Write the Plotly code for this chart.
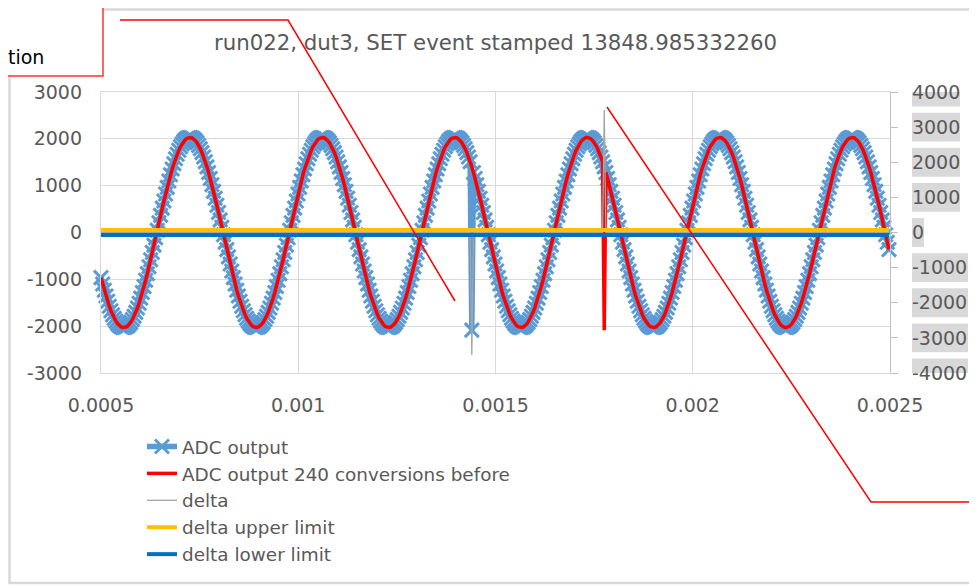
import plotly.graph_objects as go

# ---------------- data ----------------
first_sample_s = 0.0005           # time of first plotted conversion
sample_interval_s = 4.19625e-6    # time between plotted conversions

adc_output = [
    -964, -1101, -1232, -1355, -1469, -1574, -1670, -1755, -1830, -1893, -1945, -1985, -2012, -2027, -2029, -2019, -1997, -1962, -1915, -1857, -1787, -1705, -1613, -1512, -1401, -1281, -1154, -1020, -879, -732, -582, -427, -270, -112, 48, 207, 365, 520, 673, 821,
    964, 1101, 1232, 1355, 1469, 1574, 1670, 1755, 1830, 1893, 1945, 1985, 2012, 2027, 2029, 2019, 1997, 1962, 1915, 1857, 1787, 1705, 1613, 1512, 1401, 1281, 1154, 1020, 879, 732, 582, 427, 270, 112, -48, -207, -365, -520, -673, -821,
    -964, -1101, -1232, -1355, -1469, -1574, -1670, -1755, -1830, -1893, -1945, -1985, -2012, -2027, -2029, -2019, -1997, -1962, -1915, -1857, -1787, -1705, -1613, -1512, -1401, -1281, -1154, -1020, -879, -732, -582, -427, -270, -112, 48, 207, 365, 520, 673, 821,
    964, 1101, 1232, 1355, 1469, 1574, 1670, 1755, 1830, 1893, 1945, 1985, 2012, 2027, 2029, 2019, 1997, 1962, 1915, 1857, 1787, 1705, 1613, 1512, 1401, 1281, 1154, 1020, 879, 732, 582, 427, 270, 112, -48, -207, -365, -520, -673, -821,
    -964, -1101, -1232, -1355, -1469, -1574, -1670, -1755, -1830, -1893, -1945, -1985, -2012, -2027, -2029, -2019, -1997, -1962, -1915, -1857, -1787, -1705, -1613, -1512, -1401, -1281, -1154, -1020, -879, -732, -582, -427, -270, -112, 48, 207, 365, 520, 673, 821,
    964, 1101, 1232, 1355, 1469, 1574, 1670, 1755, 1830, 1893, 1945, 1985, 2012, 2027, 2029, 2019, 1997, 1962, 1915, 1857, 1787, 1705, 1613, 1512, -2085, 1281, 1154, 1020, 879, 732, 582, 427, 270, 112, -48, -207, -365, -520, -673, -821,
    -964, -1101, -1232, -1355, -1469, -1574, -1670, -1755, -1830, -1893, -1945, -1985, -2012, -2027, -2029, -2019, -1997, -1962, -1915, -1857, -1787, -1705, -1613, -1512, -1401, -1281, -1154, -1020, -879, -732, -582, -427, -270, -112, 48, 207, 365, 520, 673, 821,
    964, 1101, 1232, 1355, 1469, 1574, 1670, 1755, 1830, 1893, 1945, 1985, 2012, 2027, 2029, 2019, 1997, 1962, 1915, 1857, 1787, 1705, 1613, 1512, 1401, 1281, 1154, 1020, 879, 732, 582, 427, 270, 112, -48, -207, -365, -520, -673, -821,
    -964, -1101, -1232, -1355, -1469, -1574, -1670, -1755, -1830, -1893, -1945, -1985, -2012, -2027, -2029, -2019, -1997, -1962, -1915, -1857, -1787, -1705, -1613, -1512, -1401, -1281, -1154, -1020, -879, -732, -582, -427, -270, -112, 48, 207, 365, 520, 673, 821,
    964, 1101, 1232, 1355, 1469, 1574, 1670, 1755, 1830, 1893, 1945, 1985, 2012, 2027, 2029, 2019, 1997, 1962, 1915, 1857, 1787, 1705, 1613, 1512, 1401, 1281, 1154, 1020, 879, 732, 582, 427, 270, 112, -48, -207, -365, -520, -673, -821,
    -964, -1101, -1232, -1355, -1469, -1574, -1670, -1755, -1830, -1893, -1945, -1985, -2012, -2027, -2029, -2019, -1997, -1962, -1915, -1857, -1787, -1705, -1613, -1512, -1401, -1281, -1154, -1020, -879, -732, -582, -427, -270, -112, 48, 207, 365, 520, 673, 821,
    964, 1101, 1232, 1355, 1469, 1574, 1670, 1755, 1830, 1893, 1945, 1985, 2012, 2027, 2029, 2019, 1997, 1962, 1915, 1857, 1787, 1705, 1613, 1512, 1401, 1281, 1154, 1020, 879, 732, 582, 427, 270, 112, -48, -207, -365,
]

adc_output_240_before = [
    -964, -1101, -1232, -1355, -1469, -1574, -1670, -1755, -1830, -1893, -1945, -1985, -2012, -2027, -2029, -2019, -1997, -1962, -1915, -1857, -1787, -1705, -1613, -1512, -1401, -1281, -1154, -1020, -879, -732, -582, -427, -270, -112, 48, 207, 365, 520, 673, 821,
    964, 1101, 1232, 1355, 1469, 1574, 1670, 1755, 1830, 1893, 1945, 1985, 2012, 2027, 2029, 2019, 1997, 1962, 1915, 1857, 1787, 1705, 1613, 1512, 1401, 1281, 1154, 1020, 879, 732, 582, 427, 270, 112, -48, -207, -365, -520, -673, -821,
    -964, -1101, -1232, -1355, -1469, -1574, -1670, -1755, -1830, -1893, -1945, -1985, -2012, -2027, -2029, -2019, -1997, -1962, -1915, -1857, -1787, -1705, -1613, -1512, -1401, -1281, -1154, -1020, -879, -732, -582, -427, -270, -112, 48, 207, 365, 520, 673, 821,
    964, 1101, 1232, 1355, 1469, 1574, 1670, 1755, 1830, 1893, 1945, 1985, 2012, 2027, 2029, 2019, 1997, 1962, 1915, 1857, 1787, 1705, 1613, 1512, 1401, 1281, 1154, 1020, 879, 732, 582, 427, 270, 112, -48, -207, -365, -520, -673, -821,
    -964, -1101, -1232, -1355, -1469, -1574, -1670, -1755, -1830, -1893, -1945, -1985, -2012, -2027, -2029, -2019, -1997, -1962, -1915, -1857, -1787, -1705, -1613, -1512, -1401, -1281, -1154, -1020, -879, -732, -582, -427, -270, -112, 48, 207, 365, 520, 673, 821,
    964, 1101, 1232, 1355, 1469, 1574, 1670, 1755, 1830, 1893, 1945, 1985, 2012, 2027, 2029, 2019, 1997, 1962, 1915, 1857, 1787, 1705, 1613, 1512, 1401, 1281, 1154, 1020, 879, 732, 582, 427, 270, 112, -48, -207, -365, -520, -673, -821,
    -964, -1101, -1232, -1355, -1469, -1574, -1670, -1755, -1830, -1893, -1945, -1985, -2012, -2027, -2029, -2019, -1997, -1962, -1915, -1857, -1787, -1705, -1613, -1512, -1401, -1281, -1154, -1020, -879, -732, -582, -427, -270, -112, 48, 207, 365, 520, 673, 821,
    964, 1101, 1232, 1355, 1469, 1574, 1670, 1755, 1830, 1893, 1945, 1985, 2012, 2027, 2029, 2019, 1997, 1962, 1915, 1857, 1787, 1705, 1613, 1512, -2085, 1281, 1154, 1020, 879, 732, 582, 427, 270, 112, -48, -207, -365, -520, -673, -821,
    -964, -1101, -1232, -1355, -1469, -1574, -1670, -1755, -1830, -1893, -1945, -1985, -2012, -2027, -2029, -2019, -1997, -1962, -1915, -1857, -1787, -1705, -1613, -1512, -1401, -1281, -1154, -1020, -879, -732, -582, -427, -270, -112, 48, 207, 365, 520, 673, 821,
    964, 1101, 1232, 1355, 1469, 1574, 1670, 1755, 1830, 1893, 1945, 1985, 2012, 2027, 2029, 2019, 1997, 1962, 1915, 1857, 1787, 1705, 1613, 1512, 1401, 1281, 1154, 1020, 879, 732, 582, 427, 270, 112, -48, -207, -365, -520, -673, -821,
    -964, -1101, -1232, -1355, -1469, -1574, -1670, -1755, -1830, -1893, -1945, -1985, -2012, -2027, -2029, -2019, -1997, -1962, -1915, -1857, -1787, -1705, -1613, -1512, -1401, -1281, -1154, -1020, -879, -732, -582, -427, -270, -112, 48, 207, 365, 520, 673, 821,
    964, 1101, 1232, 1355, 1469, 1574, 1670, 1755, 1830, 1893, 1945, 1985, 2012, 2027, 2029, 2019, 1997, 1962, 1915, 1857, 1787, 1705, 1613, 1512, 1401, 1281, 1154, 1020, 879, 732, 582, 427, 270, 112, -48, -207, -365,
]

delta = [0] * 224 + [-3486] + [0] * 79 + [3486] + [0] * 172
delta_upper_limit = [70] * 477
delta_lower_limit = [-70] * 477

x_tick_values = [0.0005, 0.001, 0.0015, 0.002, 0.0025]
x_tick_labels = ["0.0005", "0.001", "0.0015", "0.002", "0.0025"]
left_tick_values = [-3000, -2000, -1000, 0, 1000, 2000, 3000]
left_tick_labels = ["-3000", "-2000", "-1000", "0", "1000", "2000", "3000"]
right_tick_values = [-4000, -3000, -2000, -1000, 0, 1000, 2000, 3000, 4000]
right_tick_labels = ["-4000", "-3000", "-2000", "-1000", "0", "1000", "2000", "3000", "4000"]

title_text = "run022, dut3, SET event stamped 13848.985332260"

# ---------------- figure ----------------
FONT = "DejaVu Sans"
GREY_TXT = "#595959"
GRID = "#d9d9d9"

# the page body has an 8px margin, so the figure is placed at (8, 8)
OFF = 8
W, H = 977 - OFF, 586 - OFF
# plot area in page pixels (as in the reference)
PL, PR, PT, PB = 101, 890, 92, 373

fig = go.Figure()

fig.add_trace(go.Scatter(
    x0=first_sample_s, dx=sample_interval_s, y=adc_output,
    name="ADC output", mode="lines+markers", cliponaxis=False,
    line=dict(color="#5b9bd5", width=5.5),
    marker=dict(symbol="x-thin", size=14, color="#5b9bd5",
                line=dict(color="#5b9bd5", width=3)),
))
fig.add_trace(go.Scatter(
    x0=first_sample_s, dx=sample_interval_s, y=adc_output_240_before,
    name="ADC output 240 conversions before", mode="lines",
    line=dict(color="#ff0000", width=3.5),
))
fig.add_trace(go.Scatter(
    x0=first_sample_s, dx=sample_interval_s, y=delta, yaxis="y2",
    name="delta", mode="lines",
    line=dict(color="#a5a5a5", width=1.3),
))
fig.add_trace(go.Scatter(
    x0=first_sample_s, dx=sample_interval_s, y=delta_upper_limit, yaxis="y2",
    name="delta upper limit", mode="lines",
    line=dict(color="#ffc000", width=4),
))
fig.add_trace(go.Scatter(
    x0=first_sample_s, dx=sample_interval_s, y=delta_lower_limit, yaxis="y2",
    name="delta lower limit", mode="lines",
    line=dict(color="#0070c0", width=4),
))


def px(xp):
    return (xp - PL) / (PR - PL)


def py(yp):
    return (PB - yp) / (PB - PT)


shapes = []
# outer chart-area border
shapes.append(dict(type="rect", xref="paper", yref="paper",
                   x0=px(9.5), x1=px(995), y0=py(583), y1=py(9.5),
                   line=dict(color=GRID, width=2.5), fillcolor="rgba(0,0,0,0)", layer="below"))
# grey boxes behind the secondary axis labels
for v, lab in zip(right_tick_values, right_tick_labels):
    w = 12 * sum(c.isdigit() for c in lab) + (8 if lab.startswith("-") else 0)
    if lab == "0":
        w = 12
    shapes.append(dict(type="rect", xref="paper", yref="y2",
                       x0=px(912), x1=px(912 + w), y0=v - 412, y1=v + 412,
                       line=dict(width=0), fillcolor=GRID, layer="below"))
# callout box (top-left)
shapes.append(dict(type="rect", xref="paper", yref="paper",
                   x0=px(-10), x1=px(103), y0=py(76), y1=py(-10),
                   line=dict(color="#ff3333", width=1.5), fillcolor="white", layer="above"))
# callout leader lines
shapes.append(dict(type="path", xref="paper", yref="paper",
                   path=f"M {px(120)},{py(20)} L {px(288)},{py(20)} L {px(455)},{py(301)}",
                   line=dict(color="#ff0000", width=1.5), layer="above"))
shapes.append(dict(type="path", xref="paper", yref="paper",
                   path=f"M {px(607)},{py(107)} L {px(871)},{py(502)} L {px(995)},{py(502)}",
                   line=dict(color="#ff0000", width=1.5), layer="above"))

fig.update_layout(
    width=W, height=H,
    margin=dict(l=PL - OFF, r=W - (PR - OFF), t=PT - OFF, b=H - (PB - OFF), pad=0, autoexpand=False),
    paper_bgcolor="white", plot_bgcolor="white",
    font=dict(family=FONT, size=19, color=GREY_TXT),
    title=dict(text=title_text, x=0.5, xref="paper", xanchor="center",
               y=1 - (43 - OFF) / H, yref="container", yanchor="middle",
               font=dict(family=FONT, size=21.3, color=GREY_TXT)),
    showlegend=True,
    legend=dict(x=px(142), y=py(428), xanchor="left", yanchor="top",
                font=dict(family=FONT, size=18.4, color=GREY_TXT),
                bgcolor="rgba(0,0,0,0)", tracegroupgap=0, traceorder="normal"),
    xaxis=dict(range=[0.0005, 0.0025], tickvals=x_tick_values, ticktext=x_tick_labels,
               showgrid=True, gridcolor=GRID, gridwidth=1.3, zeroline=False,
               showline=True, mirror=True, linecolor=GRID, linewidth=1.3,
               ticks="outside", ticklen=15, tickcolor="rgba(0,0,0,0)", automargin=False,
               tickfont=dict(family=FONT, size=19, color=GREY_TXT)),
    yaxis=dict(range=[-3000, 3000], tickvals=left_tick_values, ticktext=left_tick_labels,
               showgrid=True, gridcolor=GRID, gridwidth=1.3, zeroline=False,
               showline=True, mirror=True, linecolor=GRID, linewidth=1.3,
               ticks="", ticklabelstandoff=14, automargin=False,
               tickfont=dict(family=FONT, size=19, color=GREY_TXT)),
    yaxis2=dict(range=[-4000, 4000], tickvals=right_tick_values, ticktext=right_tick_labels,
                overlaying="y", side="right", showgrid=False, zeroline=False,
                showline=True, linecolor="#bfbfbf", linewidth=1.3,
                ticks="outside", ticklen=7, tickcolor="#bfbfbf", tickwidth=1.3,
                ticklabelstandoff=10, automargin=False,
                tickfont=dict(family=FONT, size=19, color=GREY_TXT)),
    shapes=shapes,
    annotations=[dict(text="tion", xref="paper", yref="paper",
                      x=px(46), y=py(57), xanchor="right", yanchor="middle",
                      showarrow=False, font=dict(family=FONT, size=19, color="black"))],
)

fig.write_html("out.html")
